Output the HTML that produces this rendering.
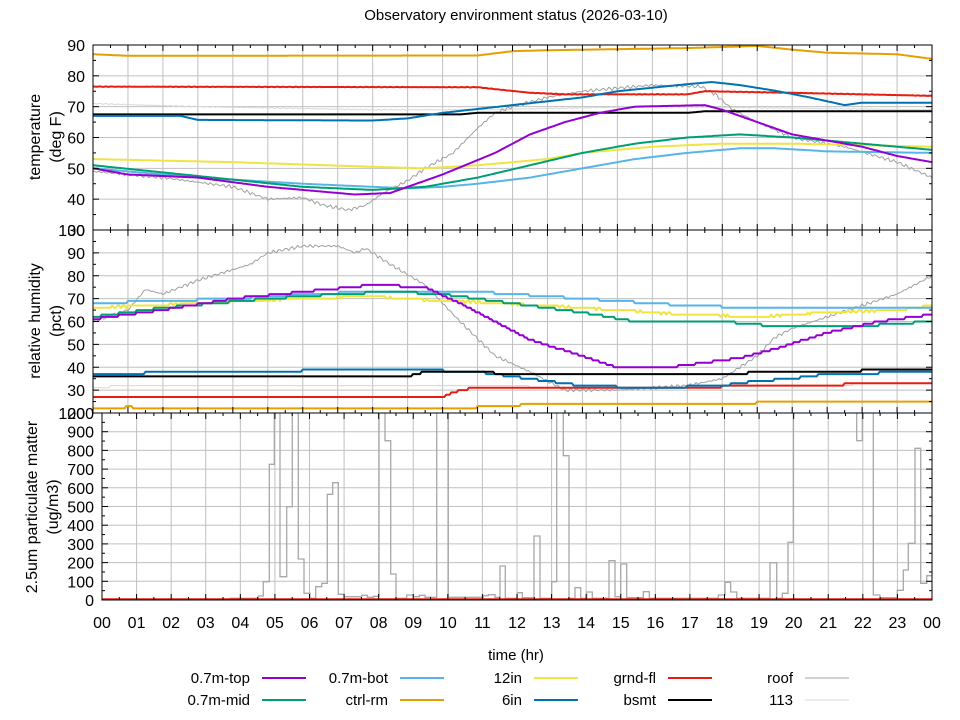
<!DOCTYPE html>
<html><head><meta charset="utf-8"><style>
body{margin:0;background:#fff}
svg{display:block;font-family:"Liberation Sans","DejaVu Sans",sans-serif}
</style></head><body>
<svg id="s" width="960" height="720" xmlns="http://www.w3.org/2000/svg">
<rect width="960" height="720" fill="#fff"/>
<defs>
<clipPath id="c1"><rect x="93" y="45" width="839" height="185"/></clipPath>
<clipPath id="c2"><rect x="93" y="230" width="839" height="183"/></clipPath>
<clipPath id="c3"><rect x="102" y="413" width="830" height="187"/></clipPath>
</defs>
<g id="grid" stroke="#c0c0c0" stroke-width="1"></g>
<g id="data"></g>
<g id="axes" stroke="#000" stroke-width="1" fill="none"></g>
<g id="txt" font-size="16" fill="#000"></g>
<text x="516" y="20" font-size="15" text-anchor="middle">Observatory environment status (2026-03-10)</text>
<text x="516" y="660" font-size="15" text-anchor="middle">time (hr)</text>
<g font-size="16" text-anchor="middle">
<text transform="translate(40,137) rotate(-90)">temperature</text>
<text transform="translate(61,137) rotate(-90)">(deg F)</text>
<text transform="translate(40,321) rotate(-90)">relative humidity</text>
<text transform="translate(61,321) rotate(-90)">(pct)</text>
<text transform="translate(37,507) rotate(-90)">2.5um particulate matter</text>
<text transform="translate(58,507) rotate(-90)">(ug/m3)</text>
</g>
<g id="leg" font-size="15"></g>
</svg>
<script>
const NS="http://www.w3.org/2000/svg";
function el(p,t,a,txt){const e=document.createElementNS(NS,t);for(const k in a)e.setAttribute(k,a[k]);if(txt!=null)e.textContent=txt;document.getElementById(p).appendChild(e);return e;}
const X1=h=>93+h*34.96, X3=h=>102+h*34.583;
const Y1=T=>45+(90-T)*3.083, Y2=H=>230+(100-H)*2.2875, Y3=v=>600-v*0.187;
for(let h=1;h<24;h++){el('grid','line',{x1:X1(h),x2:X1(h),y1:45,y2:413});el('grid','line',{x1:X3(h),x2:X3(h),y1:413,y2:600});}
for(let T=40;T<=80;T+=10)el('grid','line',{x1:93,x2:932,y1:Y1(T),y2:Y1(T)});
for(let H=30;H<=90;H+=10)el('grid','line',{x1:93,x2:932,y1:Y2(H),y2:Y2(H)});
for(let v=100;v<=900;v+=100)el('grid','line',{x1:102,x2:932,y1:Y3(v),y2:Y3(v)});
el('axes','rect',{x:93,y:45,width:839,height:185});
el('axes','rect',{x:93,y:230,width:839,height:183});
el('axes','rect',{x:102,y:413,width:830,height:187});
function tk(x1,y1,x2,y2){el('axes','line',{x1,y1,x2,y2});}
for(let i=0;i<=48;i++){const h=i/2,L=i%2?3:6;
 [[45,230],[230,413]].forEach(([a,b])=>{const x=X1(h);tk(x,a,x,a+L);tk(x,b,x,b-L);});
 const x=X3(h);tk(x,413,x,413+L);tk(x,600,x,600-L);}
for(let T=30;T<=90;T+=5){const L=T%10?3:6,y=Y1(T);tk(93,y,93+L,y);tk(932,y,932-L,y);}
for(let H=20;H<=100;H+=5){const L=H%10?3:6,y=Y2(H);tk(93,y,93+L,y);tk(932,y,932-L,y);}
for(let v=0;v<=1000;v+=50){const L=v%100?3:6,y=Y3(v);tk(102,y,102+L,y);tk(932,y,932-L,y);}
for(let T=30;T<=90;T+=10)el('txt','text',{x:85,y:Y1(T)+6,'text-anchor':'end'},String(T));
for(let H=20;H<=100;H+=10)el('txt','text',{x:85,y:Y2(H)+6,'text-anchor':'end'},String(H));
for(let v=0;v<=1000;v+=100)el('txt','text',{x:94,y:Y3(v)+6,'text-anchor':'end'},String(v));
for(let h=0;h<=24;h++)el('txt','text',{x:X3(h),y:628,'text-anchor':'middle'},String(h%24).padStart(2,'0'));
function interp(k,h){if(h<=k[0][0])return k[0][1];for(let i=1;i<k.length;i++){if(h<=k[i][0]){const a=k[i-1],b=k[i];return a[1]+(b[1]-a[1])*(h-a[0])/(b[0]-a[0]);}}return k[k.length-1][1];}
function noise(h,s){return Math.sin(h*37+s)*0.5+Math.sin(h*91+s*2)*0.35+Math.sin(h*173+s*3)*0.25;}
function series(k,X,Y,col,w,clip,opt){opt=opt||{};let d='';for(let h=0;h<=24.0001;h+=0.05){let v=interp(k,h);if(opt.n)v+=noise(h,opt.s||1)*opt.n;if(opt.r)v=Math.round(v/opt.r)*opt.r;d+=(d?'L':'M')+X(h).toFixed(1)+' '+Y(v).toFixed(1);}
 el('data','path',{d,fill:'none',stroke:col,'stroke-width':w,'clip-path':'url(#'+clip+')','stroke-linejoin':'round'});}
const C={top:'#9400d3',mid:'#009e73',bot:'#56b4e9',ctrl:'#e69f00',y12:'#f0e442',in6:'#0072b2',grnd:'#e51e10',bsmt:'#000000',roof:'#a0a0a0',s113:'#d8d8d8'};
series([[0,71],[3,70],[8,69],[11,69],[16,70],[24,69]],X1,Y1,C.s113,1,'c1',{n:0.2});
series([[0,49],[1,48],[2,47],[3,45.5],[4,44],[5,40],[6,40.5],[6.6,38],[7.3,36.5],[7.8,38],[8.3,42],[9,46],[9.5,50],[10.3,55],[11,63],[11.5,68],[12,70],[13,73],[14,75],[15,76],[16,77],[17.4,76.5],[17.8,74],[18.3,69],[19,65],[20,60],[21.5,57],[23,52],[24,47]],X1,Y1,C.roof,1,'c1',{n:0.6,s:2});
series([[0,87],[1,86.5],[11,86.6],[12,88],[13,88.3],[17,89],[19,89.7],[20,88.5],[21,87.5],[23,87],[24,85.5]],X1,Y1,C.ctrl,2,'c1');
series([[0,76.5],[11,76.3],[12.5,74.5],[13.5,74],[17,74],[17.5,75],[20,74.5],[24,73.5]],X1,Y1,C.grnd,2,'c1',{n:0.1});
series([[0,67.5],[10.5,67.5],[11,68],[17,68],[17.5,68.5],[24,68.5]],X1,Y1,C.bsmt,2,'c1');
series([[0,67],[2.5,67],[3,65.7],[8,65.5],[9,66.2],[10,68],[12,70.5],[14,73],[15,75],[17,77.3],[17.7,78],[18.5,77],[19.5,75.2],[20.5,73],[21.5,70.5],[22,71.3],[24,71.3]],X1,Y1,C.in6,2,'c1');
series([[0,53],[4,52],[8,50.5],[9.5,50],[11,51],[13,53],[14,55],[16,57],[18,58],[20,58],[22,57.5],[24,57]],X1,Y1,C.y12,2,'c1');
series([[0,50],[3,47],[6,45],[9,43.5],[10,44],[11,45],[12.5,47],[14,50],[15.5,53],[17,55],[18.5,56.5],[19.5,56.5],[21,55.5],[24,55]],X1,Y1,C.bot,2,'c1');
series([[0,51],[3,47.5],[6,44],[8,43],[9.5,44],[11,47],[12.5,51],[14,55],[15.5,58],[17,60],[18.5,61],[20,60],[21.5,58.5],[23,57],[24,56]],X1,Y1,C.mid,2,'c1');
series([[0,50],[1,48],[3,47],[5,44],[6,43],[7.5,41.5],[8.5,42],[9,44],[10,48],[11.5,55],[12.5,61],[13.5,65],[14.5,68],[15.5,70],[17.5,70.5],[18,69],[19,65],[20,61],[21,59],[22,57],[23,54],[24,52]],X1,Y1,C.top,2,'c1');
series([[0,31],[1,32],[10,32],[15,31],[24,33]],X1,Y2,C.s113,1,'c2',{r:1});
series([[0,60],[1,65],[1.5,74],[2,72],[3,78],[4.5,85],[5,90],[6,93],[7,93],[7.5,90],[7.8,92],[8.5,85],[9.5,76],[10.5,60],[11.5,45],[12.5,38],[13.5,30],[15,30],[17,32],[18,35],[19,45],[19.5,53],[20,57],[21,62],[22,67],[23,72],[24,80]],X1,Y2,C.roof,1,'c2',{n:0.8,s:5});
series([[0,22],[0.9,22],[1,23],[1.2,22],[10.5,22],[11.5,23],[13,24],[19,24.5],[24,25]],X1,Y2,C.ctrl,2,'c2',{r:1});
series([[0,27],[10,27],[10.5,30],[11,31],[17,31],[19,32],[24,33]],X1,Y2,C.grnd,2,'c2',{r:1});
series([[0,37],[3,38],[9,39],[11,38],[12.5,35],[14,32],[16,31],[18,32],[19,34],[20,35],[21,37],[24,38]],X1,Y2,C.in6,2,'c2',{r:1});
series([[0,36],[9,36],[9.5,38],[11,38],[12,37],[17.5,37],[20,38],[24,39]],X1,Y2,C.bsmt,2,'c2',{r:1});
series([[0,66],[3,68],[6,70],[8,71],[10,69],[13,67],[15,65],[17,63],[19,62],[21,64],[23,65],[24,67]],X1,Y2,C.y12,2,'c2',{r:1,n:0.3,s:7});
series([[0,68],[4,70],[6,72],[8,73],[11,73],[13,71],[15,69],[17,67],[19,66],[24,66]],X1,Y2,C.bot,2,'c2',{r:1});
series([[0,62],[2,66],[5,70],[7,72],[8.5,73],[10,72],[12,68],[14,64],[15.5,60],[18,60],[19.5,58],[22,58],[24,60]],X1,Y2,C.mid,2,'c2',{r:1});
series([[0,61],[2,65],[4,70],[6,73],[8,76],[9.5,75],[10.5,68],[11.5,60],[12.5,52],[14,45],[15,40],[16.5,40],[17.5,42],[18.5,44],[19.5,48],[21,55],[22.5,60],[24,63]],X1,Y2,C.top,2,'c2',{r:1});
const A=[[0,565],[85,558],[100,515],[118,163],[133,-30],[150,500],[170,290],[187,-30],[205,447],[222,550],[240,565],[257,530],[275,520],[292,253],[308,218],[325,553],[342,560],[395,556],[412,562],[430,559],[447,-30],[465,92],[482,492],[498,565],[530,555],[550,560],[568,556],[585,562],[620,-30],[655,562],[760,557],[775,554],[795,562],[810,468],[826,565],[862,548],[877,563],[912,378],[930,565],[965,515],[980,-30]];
const B=[[10,137],[27,565],[45,533],[62,565],[80,546],[97,565],[147,452],[165,560],[182,462],[200,563],[250,545],[268,565],[475,555],[495,517],[512,546],[530,565],[630,458],[650,565],[667,550],[684,397],[700,-30],[890,92],[907,-30],[940,555],[960,563],[1012,541],[1030,480],[1045,400],[1065,115],[1082,520],[1100,497],[1120,497]];
let pts=[],prevY=null;
A.forEach(([px,py])=>{const x=230+px/3,y=410+py/3;if(prevY!==null)pts.push([x,prevY]);pts.push([x,y]);prevY=y;});
B.forEach(([px,py])=>{const x=560+px/3,y=410+py/3;pts.push([x,prevY]);pts.push([x,y]);prevY=y;});
let d='M102 599.5L'+(230).toFixed(1)+' 599.5 '+pts.map(p=>p[0].toFixed(1)+' '+p[1].toFixed(1)).join(' L');
el('data','path',{d,fill:'none',stroke:'#a8a8a8','stroke-width':1.3,'clip-path':'url(#c3)'});
el('data','path',{d:'M102 599.3L932 599.3',stroke:C.grnd,'stroke-width':2,'clip-path':'url(#c3)'});
const L=[['0.7m-top',C.top,250,678,2],['0.7m-mid',C.mid,250,700,2],['0.7m-bot',C.bot,388,678,2],['ctrl-rm',C.ctrl,388,700,2],['12in',C.y12,522,678,2],['6in',C.in6,522,700,2],['grnd-fl',C.grnd,656,678,2],['bsmt',C.bsmt,656,700,2],['roof',C.roof,793,678,1],['113',C.s113,793,700,1]];
L.forEach(([t,c,x,y,w])=>{el('leg','text',{x,y:y+5,'text-anchor':'end'},t);el('leg','line',{x1:x+12,x2:x+56,y1:y,y2:y,stroke:c,'stroke-width':w});});
</script>
</body></html>
